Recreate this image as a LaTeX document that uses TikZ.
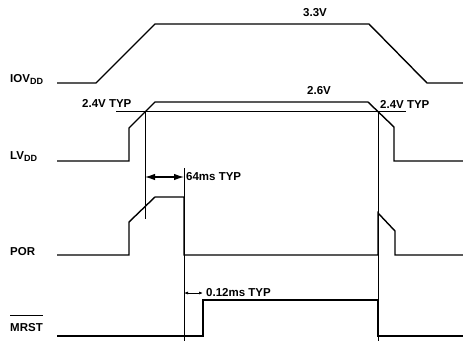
\documentclass[tikz,border=0pt]{standalone}
\usepackage{fontspec}
\setmainfont{Liberation Sans}
\usetikzlibrary{arrows.meta}
\begin{document}
\begin{tikzpicture}[x=1pt,y=-1pt,
  sig/.style={line width=1.4pt, line join=miter},
  guide/.style={line width=0.7pt},
  lbl/.style={font=\bfseries\fontsize{11.5}{13}\selectfont, inner sep=0pt, anchor=base west},
  dimbig/.style={line width=1.1pt, {Latex[length=10pt,width=6.5pt]}-{Latex[length=10pt,width=6.5pt]}},
  dimsmall/.style={line width=0.7pt, {Latex[length=4pt,width=3pt]}-{Latex[length=4pt,width=3pt]}}]
\useasboundingbox (0,0) rectangle (463,341);
\newcommand{\dd}{\raisebox{-2.5pt}{\fontsize{9}{10}\selectfont DD}}
% signal names
\node[lbl] (iovl) at (10,82) {IOV\dd};
\node[lbl] (lvl) at (10,159) {LV\dd};
\node[lbl] (porl) at (10,255) {POR};
\node[lbl] (mrstl) at (10,331) {MRST};
\draw[guide] ([yshift=7pt]mrstl.north west) -- ([yshift=7pt]mrstl.north east);
% values
\node[lbl] (v33) at (303,16) {3.3V};
\node[lbl] (v26) at (307,94) {2.6V};
\node[lbl] (thl) at (82,107) {2.4V TYP};
\node[lbl] (thr) at (380,108) {2.4V TYP};
\node[lbl] (t64) at (186,180) {64ms TYP};
\node[lbl] (t012) at (206,296) {0.12ms TYP};
% waveforms
\draw[sig] (57,83) -- (96,83) -- (155,24) -- (369,24) -- (427,83) -- (463,83);
\draw[sig] (57,161) -- (129,161) -- (129,128) -- (155,102) -- (368,102) -- (394,127) -- (394,161) -- (463,161);
\draw[sig] (57,255) -- (129,255) -- (129,222) -- (155,197) -- (184,197) -- (184,255) -- (378,255) -- (378,213) -- (395,231) -- (395,255) -- (463,255);
\draw[sig] (57,336) -- (203,336) -- (203,300) -- (378,300) -- (378,336) -- (463,336);
% guides
\coordinate (thA) at (116,111);
\coordinate (thB) at (406,111);
\draw[guide] (thA) -- (thB);
\coordinate (g1a) at (145,111);
\coordinate (g1b) at (145,219);
\coordinate (g2a) at (184,168);
\coordinate (g2b) at (184,341);
\coordinate (g3a) at (378,111);
\coordinate (g3b) at (378,341);
\draw[guide] (g1a) -- (g1b);
\draw[guide] (g2a) -- (g2b);
\draw[guide] (g3a) -- (g3b);
% dimensions
\coordinate (d1a) at (145,177);
\coordinate (d1b) at (184,177);
\coordinate (d2a) at (184,293);
\coordinate (d2b) at (203,293);
\draw[dimbig] (d1a) -- (d1b);
\draw[dimsmall] (d2a) -- (d2b);
\end{tikzpicture}
\end{document}
